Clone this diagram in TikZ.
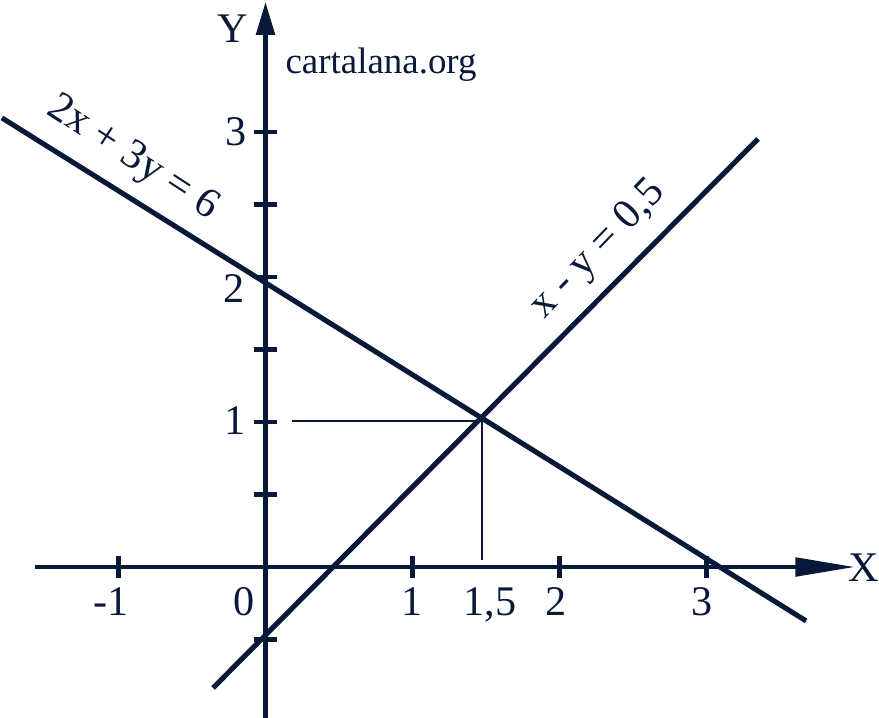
\documentclass[tikz,border=0pt]{standalone}
\usepackage{fontspec}
\setmainfont{Liberation Serif}
\usetikzlibrary{arrows.meta}
\definecolor{ink}{RGB}{8,24,56}

\begin{document}
\begin{tikzpicture}[x=1.47cm,y=1.45cm]
\tikzstyle{axis}=[ink,line width=1.3pt]
\tikzstyle{graph}=[ink,line width=1.45pt]
\tikzstyle{guide}=[ink,line width=0.4pt]
\tikzstyle{num}=[text=ink,font=\fontsize{12}{14}\selectfont,inner sep=0pt,anchor=base]
\useasboundingbox (-1.806,-1.041) rectangle (4.173,3.910);

% Axes
\coordinate (XL) at (-1.568,0);
\coordinate (XR) at (4.010,0);
\coordinate (YB) at (0,-1.041);
\coordinate (YT) at (0,3.897);
\draw[axis,-{Triangle[length=17pt,width=5.2pt]}] (XL) -- (XR);
\draw[axis,-{Triangle[length=9.4pt,width=5.2pt]}] (YB) -- (YT);

% Ticks
\foreach \t in {-1,1,2,3} \draw[axis] (\t,-0.076) -- (\t,0.076);
\foreach \t in {-0.5,0.5,1,1.5,2,2.5,3} \draw[axis] (-0.075,\t) -- (0.075,\t);

% Tick labels
\node (NXM) [num] at (-1.051,-0.331) {-1};
\node (NXO) [num] at (-0.146,-0.331) {0};
\node (NXA) [num] at (0.997,-0.331) {1};
\node (NXP) [num] at (1.527,-0.331) {1,5};
\node (NXB) [num] at (1.976,-0.331) {2};
\node (NXC) [num] at (2.969,-0.331) {3};
\node (NYA) [num] at (-0.207,0.917) {1};
\node (NYB) [num] at (-0.214,1.821) {2};
\node (NYC) [num] at (-0.201,2.910) {3};
\node (LX) [num] at (4.071,-0.097) {X};
\node (LY) [num] at (-0.221,3.614) {Y};
\node (WEB) [num,font=\fontsize{10.5}{12}\selectfont] at (0.786,3.400) {cartalana.org};

% Lines
\coordinate (AA) at (-1.793,3.097);
\coordinate (AB) at (3.677,-0.372);
\coordinate (BA) at (-0.357,-0.834);
\coordinate (BB) at (3.350,2.952);
\draw[graph] (AA) -- (AB);
\draw[graph] (BA) -- (BB);
\node (EQA) [num,anchor=center,rotate=-33] at (-0.905,2.817) {2x + 3y = 6};
\node (EQB) [num,anchor=center,rotate=46] at (2.265,2.186) {x - y = 0,5};

% Intersection
\coordinate (P) at (1.473,1.007);
\coordinate (PY) at (0.180,1.007);
\coordinate (PX) at (1.473,0.048);
\draw[guide] (PY) -- (P) -- (PX);

\end{tikzpicture}
\end{document}
